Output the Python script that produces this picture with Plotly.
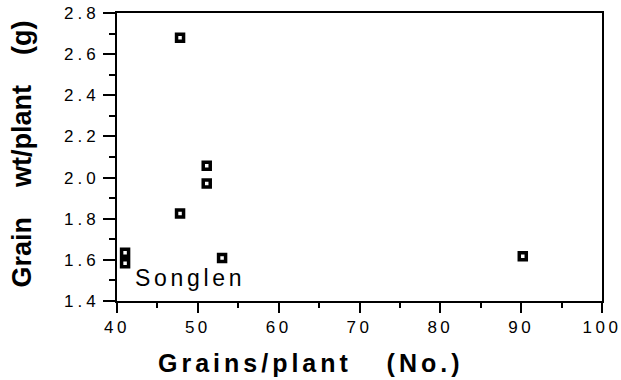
import plotly.graph_objects as go

grains = [47.8, 51.1, 51.1, 47.8, 41.0, 41.0, 53.0, 90.2]
weight = [2.68, 2.057, 1.971, 1.825, 1.634, 1.584, 1.609, 1.617]

x_ticks = [40, 50, 60, 70, 80, 90, 100]
x_minor = [45, 55, 65, 75, 85, 95]
y_ticks = [1.4, 1.6, 1.8, 2.0, 2.2, 2.4, 2.6, 2.8]
y_minor = [1.5, 1.7, 1.9, 2.1, 2.3, 2.5, 2.7]

x_title = "Grains/plant"
x_unit = "(No.)"
y_title = ["Grain", "wt/plant", "(g)"]
label = "Songlen"

FONT = "Liberation Sans, Arial, Helvetica"


def spaced(t, s):
    return f'<span style="letter-spacing:{s}px">{t}</span>'


fig = go.Figure()
fig.add_trace(go.Scatter(
    x=grains, y=weight, mode="markers",
    marker=dict(symbol="square-open", size=7, color="black",
                line=dict(width=3.5, color="black")),
    showlegend=False, hoverinfo="x+y"))

fig.add_annotation(x=42.0, y=1.51, xref="x", yref="y", text=spaced(label, 3.7),
                   showarrow=False, xanchor="left", yanchor="middle",
                   font=dict(family=FONT, size=23, color="black"))

fig.add_annotation(x=0.399, y=-0.215, xref="paper", yref="paper",
                   text="<b>" + spaced(x_title, 4) + "&nbsp;&nbsp;&nbsp;&nbsp;&nbsp;" + spaced(x_unit, 4) + "</b>",
                   showarrow=False, xanchor="center", yanchor="middle",
                   font=dict(family=FONT, size=25, color="black"))

fig.add_annotation(x=-0.195, y=0.51, xref="paper", yref="paper",
                   text="<b>" + "&nbsp;&nbsp;&nbsp;&nbsp;".join(y_title) + "</b>",
                   textangle=-90, showarrow=False, xanchor="center", yanchor="middle",
                   font=dict(family=FONT, size=27, color="black"))

tick_font = dict(family=FONT, size=17, color="black")
fig.update_layout(
    width=621, height=380,
    margin=dict(l=117, r=19, t=13, b=79),
    plot_bgcolor="white", paper_bgcolor="white",
    xaxis=dict(range=[40, 100], tickvals=x_ticks,
               ticktext=[spaced(f"{v:d}", 3.5) for v in x_ticks],
               ticks="outside", ticklen=10, tickwidth=2, tickcolor="black",
               minor=dict(tickvals=x_minor, ticks="outside", ticklen=5, tickwidth=2, tickcolor="black"),
               showline=True, linewidth=2, linecolor="black", mirror=True,
               showgrid=False, zeroline=False, tickfont=tick_font, automargin=False,
               ticklabeloverflow="allow"),
    yaxis=dict(range=[1.4, 2.8], tickvals=y_ticks,
               ticktext=[spaced(f"{v:.1f}", 4) for v in y_ticks],
               ticks="outside", ticklen=12, tickwidth=2, tickcolor="black",
               minor=dict(tickvals=y_minor, ticks="outside", ticklen=6, tickwidth=2, tickcolor="black"),
               showline=True, linewidth=2, linecolor="black", mirror=True,
               showgrid=False, zeroline=False, tickfont=tick_font, automargin=False,
               ticklabeloverflow="allow"),
)

fig.write_html("out.html")
